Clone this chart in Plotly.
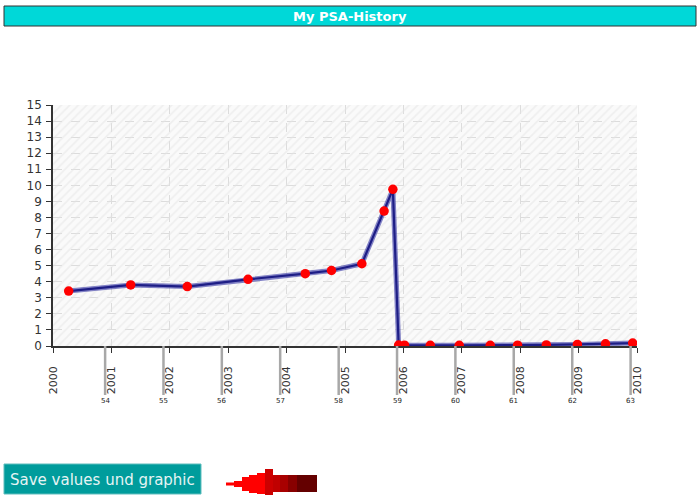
import plotly.graph_objects as go

# ---------------- data ----------------
dates = ["2000-04-08", "2001-05-01", "2002-04-20", "2003-05-05", "2004-04-27",
         "2004-10-08", "2005-04-16", "2005-09-02", "2005-10-27", "2005-12-02",
         "2006-01-08", "2006-06-18", "2006-12-16", "2007-06-28", "2007-12-16",
         "2008-06-13", "2008-12-24", "2009-06-18", "2009-12-05"]
psa = [3.42, 3.8, 3.7, 4.15, 4.5,
       4.7, 5.12, 8.4, 9.75, 0.06,
       0.05, 0.04, 0.04, 0.04, 0.05,
       0.07, 0.1, 0.14, 0.18]
age_labels = ["54", "55", "56", "57", "58", "59", "60", "61", "62", "63"]
birthdays = ["2000-11-22", "2001-11-22", "2002-11-22", "2003-11-22", "2004-11-22",
             "2005-11-22", "2006-11-22", "2007-11-22", "2008-11-22", "2009-11-22"]
year_ticks = [f"{y}-01-01" for y in range(2000, 2011)]
year_labels = [str(y) for y in range(2000, 2011)]
y_ticks = list(range(0, 16))
title_text = "My PSA-History"
button_text = "Save values und graphic"

# ---------------- layout geometry ----------------
W, H = 700, 495
ML, MR, MT, MB = 53, 63, 105, 149
PW, PH = W - ML - MR, H - MT - MB


def px(x):
    return (x - ML) / PW


def py(y):
    return (H - MB - y) / PH


fig = go.Figure()

# hatched background
fig.add_trace(go.Scatter(
    x=[year_ticks[0], year_ticks[-1], year_ticks[-1], year_ticks[0], year_ticks[0]],
    y=[0, 0, 15, 15, 0], mode="lines", line=dict(width=0),
    fill="toself", fillcolor="rgba(0,0,0,0)",
    fillpattern=dict(shape="/", fgcolor="#e4e4e4", bgcolor="rgba(0,0,0,0)",
                     size=6, solidity=0.3),
    hoverinfo="skip", showlegend=False))

# line: soft wide underlay + navy core
fig.add_trace(go.Scatter(x=dates, y=psa, mode="lines",
                         line=dict(color="rgba(80,80,175,0.7)", width=5),
                         hoverinfo="skip", showlegend=False))
fig.add_trace(go.Scatter(x=dates, y=psa, mode="lines+markers",
                         line=dict(color="#1e1e86", width=2.2),
                         marker=dict(color="#ff0000", size=9.5),
                         showlegend=False))

shapes = []
annotations = []

# age markers below the axis
for d, a in zip(birthdays, age_labels):
    shapes.append(dict(type="line", xref="x", yref="paper", x0=d, x1=d,
                       y0=0, y1=py(395), line=dict(color="#a8a8a8", width=2.5)))
    annotations.append(dict(x=d, y=py(401), xref="x", yref="paper", text=a,
                            showarrow=False, font=dict(size=7, color="#222222",
                                                       family="DejaVu Sans"),
                            xanchor="center", yanchor="middle"))

# title bar
shapes.append(dict(type="rect", xref="paper", yref="paper",
                   x0=px(4), x1=px(696), y0=py(26), y1=py(6),
                   fillcolor="#00d8d8", line=dict(color="#333333", width=1)))
annotations.append(dict(x=px(350), y=py(16), xref="paper", yref="paper",
                        text=f"<b>{title_text}</b>", showarrow=False,
                        font=dict(size=13, color="#ffffff", family="DejaVu Sans"),
                        xanchor="center", yanchor="middle"))

# button
shapes.append(dict(type="rect", xref="paper", yref="paper",
                   x0=px(4), x1=px(201), y0=py(494), y1=py(464),
                   fillcolor="#009c9c", line=dict(color="#5fbdbd", width=1)))
annotations.append(dict(x=px(102.5), y=py(480), xref="paper", yref="paper",
                        text=button_text, showarrow=False,
                        font=dict(size=15, color="#e6f4f4", family="DejaVu Sans"),
                        xanchor="center", yanchor="middle"))

# stepped arrow
arrow_parts = [
    (226, 234, 482.5, 485.5, "#ff0000"),
    (234, 242, 481, 487, "#ff0000"),
    (242, 249, 477, 491, "#ff0000"),
    (249, 257, 475, 493, "#ff0000"),
    (257, 265, 473, 494, "#ff0000"),
    (265, 273, 469, 495, "#cc0000"),
    (273, 280, 475, 492, "#c00000"),
    (280, 288, 475, 492, "#a80000"),
    (288, 297, 475, 492, "#880000"),
    (297, 317, 475, 492, "#640000"),
]
for x0, x1, y0, y1, c in arrow_parts:
    shapes.append(dict(type="rect", xref="paper", yref="paper",
                       x0=px(x0), x1=px(x1), y0=py(y1), y1=py(y0),
                       fillcolor=c, line=dict(width=0)))

fig.update_layout(
    width=W, height=H,
    margin=dict(l=ML, r=MR, t=MT, b=MB, pad=0),
    paper_bgcolor="#ffffff", plot_bgcolor="#fafafa",
    font=dict(family="DejaVu Sans", color="#333333"),
    shapes=shapes, annotations=annotations,
    showlegend=False,
)
fig.update_xaxes(
    type="date", range=[year_ticks[0], year_ticks[-1]],
    tickmode="array", tickvals=year_ticks, ticktext=year_labels,
    tickangle=-90, tickfont=dict(size=11, color="#333333"),
    ticks="outside", ticklen=5, tickcolor="#333333", ticklabelstandoff=9,
    showline=True, linecolor="#333333", linewidth=1.5,
    showgrid=True, gridcolor="#dcdcdc", griddash="dash", gridwidth=1,
    zeroline=False, fixedrange=True,
)
fig.update_yaxes(
    range=[0, 15], tickmode="array", tickvals=y_ticks,
    tickfont=dict(size=12, color="#333333"),
    ticks="outside", ticklen=5, tickcolor="#333333", ticklabelstandoff=2,
    showline=True, linecolor="#333333", linewidth=1.5,
    showgrid=True, gridcolor="#dcdcdc", griddash="dash", gridwidth=1,
    zeroline=False, fixedrange=True,
)

fig.write_html("out.html", config={"displayModeBar": False},
               post_script="document.body.style.margin='0';"
                           "document.body.style.overflow='hidden';")
